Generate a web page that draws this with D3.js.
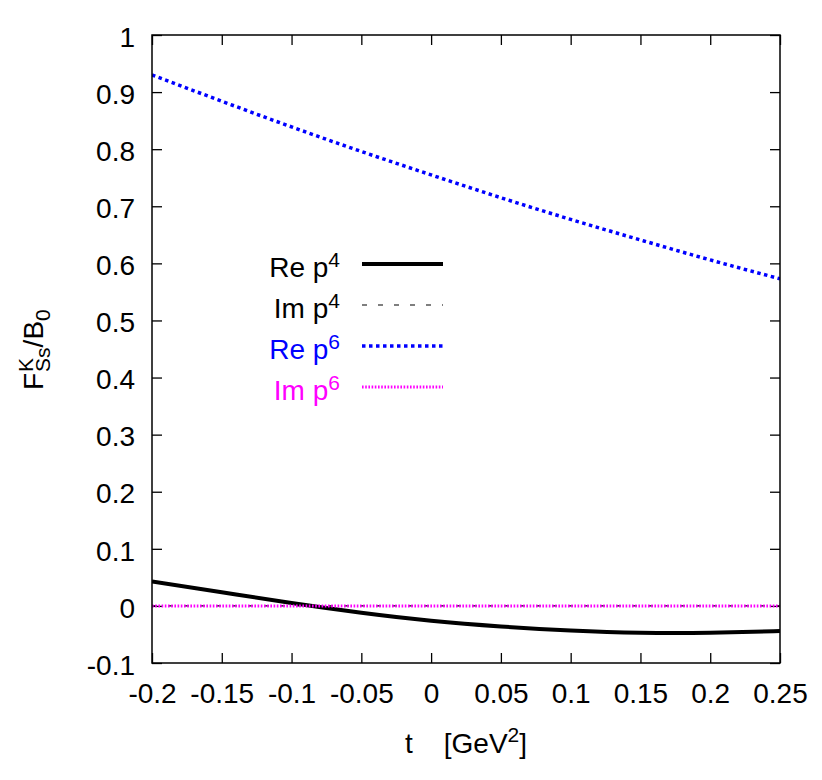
<!DOCTYPE html>
<html>
<head>
<meta charset="utf-8">
<script src="https://cdn.jsdelivr.net/npm/d3@7"></script>
<style>
  body { margin: 0; background: #fff; }
  svg text { font-family: "Liberation Sans", Arial, sans-serif; }
</style>
</head>
<body>
<svg id="chartSvg"></svg>
<script>
"use strict";

// values
let tValues  = [-0.2, -0.15, -0.1, -0.05, 0, 0.05, 0.1, 0.15, 0.2, 0.25];
let reP4     = [0.043, 0.024, 0.005, -0.012, -0.026, -0.036, -0.043, -0.047, -0.047, -0.044];
let imP4     = [0, 0, 0, 0, 0, 0, 0, 0, 0, 0];
let reP6     = [0.930, 0.884, 0.839, 0.796, 0.755, 0.715, 0.677, 0.641, 0.606, 0.573];
let imP6     = [0, 0, 0, 0, 0, 0, 0, 0, 0, 0];
let xTicks   = [-0.2, -0.15, -0.1, -0.05, 0, 0.05, 0.1, 0.15, 0.2, 0.25];
let yTicks   = [-0.1, 0, 0.1, 0.2, 0.3, 0.4, 0.5, 0.6, 0.7, 0.8, 0.9, 1];

let seriesList = [
  {name: "Re", pow: "4", values: reP4, color: "#000000", width: 4,   dash: null,      legendColor: "#000"},
  {name: "Im", pow: "4", values: imP4, color: "#000000", width: 1.2, dash: "5,11",    legendColor: "#000"},
  {name: "Re", pow: "6", values: reP6, color: "#0000ff", width: 3.5, dash: "3.5,3.5", legendColor: "#0000ff"},
  {name: "Im", pow: "6", values: imP6, color: "#ff00ff", width: 3,   dash: "1.6,1.6", legendColor: "#ff00ff"}
];

let chartMargin = {top: 35, right: 42, bottom: 117, left: 152},
    chartWidth = 822 - chartMargin.left - chartMargin.right,
    chartHeight = 780 - chartMargin.top - chartMargin.bottom;

let fontSize = 28, smallSize = 21;

// plain hyphen for negatives, like the original
let tickFmt = d => String(d);

let svg = d3.select("#chartSvg")
  .attr("width", 822)
  .attr("height", 780);

let chartGroup = svg.append("g")
  .attr("transform", `translate(${chartMargin.left},${chartMargin.top})`);

let xScale = d3.scaleLinear().domain([-0.2, 0.25]).range([0, chartWidth]);
let yScale = d3.scaleLinear().domain([-0.1, 1]).range([chartHeight, 0]);

// ticks on all sides, pointing inward
function styleAxis(g) {
  g.select(".domain").remove();
  g.selectAll(".tick line").attr("stroke", "#000").attr("stroke-width", 1.3);
  g.selectAll(".tick text").attr("fill", "#000").style("font-size", fontSize + "px");
}

chartGroup.append("g")
  .attr("transform", `translate(0,${chartHeight})`)
  .call(d3.axisBottom(xScale).tickValues(xTicks).tickSize(-10).tickPadding(0).tickFormat(tickFmt))
  .call(styleAxis)
  .call(g => g.selectAll(".tick text").attr("y", 40).attr("dy", null));

chartGroup.append("g")
  .call(d3.axisTop(xScale).tickValues(xTicks).tickSize(-10).tickFormat(""))
  .call(styleAxis);

chartGroup.append("g")
  .call(d3.axisLeft(yScale).tickValues(yTicks).tickSize(-10).tickPadding(0).tickFormat(tickFmt))
  .call(styleAxis)
  .call(g => g.selectAll(".tick text").attr("x", -17).attr("dy", "0.4em"));

chartGroup.append("g")
  .attr("transform", `translate(${chartWidth},0)`)
  .call(d3.axisRight(yScale).tickValues(yTicks).tickSize(-10).tickFormat(""))
  .call(styleAxis);

// curves
let line = d3.line()
  .x((d, i) => xScale(tValues[i]))
  .y(d => yScale(d))
  .curve(d3.curveNatural);

chartGroup.append("clipPath").attr("id", "plotClip")
  .append("rect").attr("width", chartWidth).attr("height", chartHeight);

chartGroup.append("g").attr("clip-path", "url(#plotClip)")
  .selectAll("path")
  .data(seriesList)
  .join("path")
    .attr("d", d => line(d.values))
    .attr("fill", "none")
    .attr("stroke", d => d.color)
    .attr("stroke-width", d => d.width)
    .attr("stroke-dasharray", d => d.dash);

// frame
chartGroup.append("rect")
  .attr("width", chartWidth).attr("height", chartHeight)
  .attr("fill", "none").attr("stroke", "#000").attr("stroke-width", 1.5);

// legend
let legendGroup = svg.append("g");
let legendY0 = 264, legendStep = 41;
seriesList.forEach((s, i) => {
  let y = legendY0 + i * legendStep;
  let txt = legendGroup.append("text")
    .attr("x", 340).attr("y", y + 13)
    .attr("text-anchor", "end")
    .attr("fill", s.legendColor)
    .style("font-size", fontSize + "px");
  txt.append("tspan").text(s.name + " p");
  txt.append("tspan").attr("dy", -10).style("font-size", smallSize + "px").text(s.pow);
  legendGroup.append("line")
    .attr("x1", 362).attr("x2", 443)
    .attr("y1", y).attr("y2", y)
    .attr("stroke", s.color)
    .attr("stroke-width", s.width)
    .attr("stroke-dasharray", s.dash);
});

// x axis label
let xLabel = svg.append("text")
  .attr("x", 466).attr("y", 753)
  .attr("text-anchor", "middle")
  .style("font-size", fontSize + "px");
xLabel.append("tspan").text("t\u00a0\u00a0\u00a0\u00a0[GeV");
xLabel.append("tspan").attr("dy", -11).style("font-size", smallSize + "px").text("2");
xLabel.append("tspan").attr("dy", 11).text("]");

// y axis label: F^K_Ss / B_0, rotated
let yLabelGroup = svg.append("g").attr("transform", "translate(43,390) rotate(-90)");
let xPos = 0;
let fText = yLabelGroup.append("text").attr("x", xPos).attr("y", 0)
  .style("font-size", fontSize + "px").text("F");
xPos += fText.node().getComputedTextLength() + 1;
let kText = yLabelGroup.append("text").attr("x", xPos).attr("y", -10)
  .style("font-size", smallSize + "px").text("K");
let ssText = yLabelGroup.append("text").attr("x", xPos).attr("y", 7)
  .style("font-size", smallSize + "px").text("Ss");
xPos += Math.max(kText.node().getComputedTextLength(), ssText.node().getComputedTextLength());
let bText = yLabelGroup.append("text").attr("x", xPos).attr("y", 0)
  .style("font-size", fontSize + "px").text("/B");
xPos += bText.node().getComputedTextLength();
yLabelGroup.append("text").attr("x", xPos).attr("y", 7)
  .style("font-size", smallSize + "px").text("0");
</script>
</body>
</html>
